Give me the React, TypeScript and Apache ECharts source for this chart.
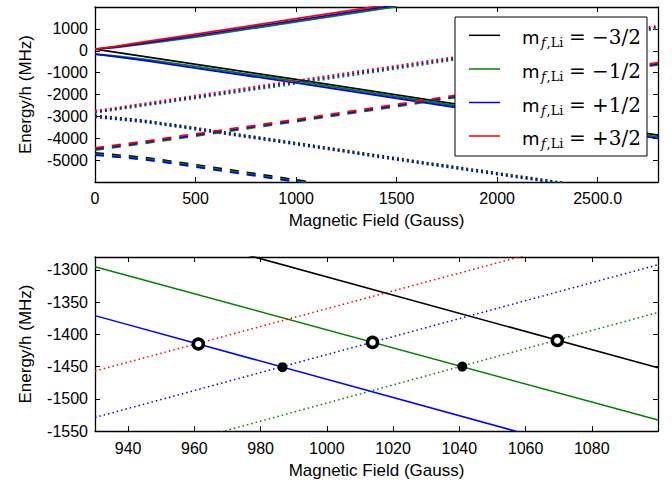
import React, { useEffect, useRef } from "react";
import * as echarts from "echarts";

const BLACK = "#000000";
const GREEN = "#008000";
const BLUE = "#0000ff";
const RED = "#ff0000";

// ---------- Top panel (B in Gauss, Energy/h in MHz) ----------
// solid, rising branch
const solidUpRed = [[0, 76], [100, 200], [250, 420], [500, 765], [1000, 1465], [1500, 2165]];
const solidUpBlue = [[0, 76], [100, 170], [250, 365], [500, 695], [1000, 1390], [1500, 2090]];
const solidUpGreen = [[0, 76], [100, 140], [250, 310], [500, 625], [1000, 1318], [1500, 2018]];
// solid, falling branch
const solidDnBlack = [[0, 76], [1000, -1312], [2800, -3860]];
const solidDnGreen = [[0, -152], [100, -235], [250, -390], [500, -715], [1000, -1393], [2000, -2800], [2800, -3935]];
const solidDnBlue = [[0, -152], [100, -265], [250, -450], [500, -790], [1000, -1470], [2000, -2880], [2800, -4010]];
// dotted, rising branch
const dotUpRed = [[0, -2745], [500, -2055], [1000, -1360], [2000, 0], [2800, 1150]];
const dotUpBlue = [[0, -2790], [500, -2115], [1000, -1432], [2000, -65], [2800, 1080]];
const dotUpGreen = [[0, -2835], [500, -2175], [1000, -1507], [2000, -130], [2800, 1010]];
// dotted, falling branch
const dotDnBlack = [[0, -2960], [250, -3190], [500, -3520], [1000, -4210], [1500, -4910], [2000, -5580], [2500, -6250]];
const dotDnGreen = [[0, -3000], [250, -3230], [500, -3560], [1000, -4250], [1500, -4950], [2000, -5620], [2500, -6290]];
const dotDnBlue = [[0, -3040], [250, -3270], [500, -3600], [1000, -4290], [1500, -4990], [2000, -5660], [2500, -6330]];
// dashed, rising branch
const dashUpRed = [[0, -4440], [250, -4130], [500, -3800], [1000, -3140], [1500, -2450], [2000, -1750], [2800, -540]];
const dashUpBlue = [[0, -4490], [250, -4180], [500, -3850], [1000, -3190], [1500, -2500], [2000, -1800], [2800, -590]];
const dashUpGreen = [[0, -4540], [250, -4230], [500, -3900], [1000, -3240], [1500, -2550], [2000, -1850], [2800, -640]];
// dashed, falling branch
const dashDnBlack = [[0, -4670], [250, -4880], [500, -5210], [1000, -5900], [1500, -6600]];
const dashDnGreen = [[0, -4720], [250, -4930], [500, -5260], [1000, -5950], [1500, -6650]];
const dashDnBlue = [[0, -4770], [250, -4980], [500, -5310], [1000, -6000], [1500, -6700]];

// ---------- Bottom panel (zoom) ----------
const zSolidBlack = [[930, -1212], [1100, -1452]];
const zSolidGreen = [[930, -1295], [1100, -1533]];
const zSolidBlue = [[930, -1371], [1100, -1611]];
const zDotRed = [[930, -1457], [1100, -1222]];
const zDotBlue = [[930, -1529], [1100, -1292]];
const zDotGreen = [[930, -1605], [1100, -1366]];
const openCircles = [[961.2, -1415], [1013.8, -1412.5], [1069.6, -1409.5]];
const filledDots = [[986.6, -1451], [1040.9, -1450]];

const bottomXTicks = [940, 960, 980, 1000, 1020, 1040, 1060, 1080];
const legendValues = ["−3/2", "−1/2", "+1/2", "+3/2"];
const legendColors = [BLACK, GREEN, BLUE, RED];

type Kind = "solid" | "dotted" | "dashed";

function mk(data: number[][], color: string, kind: Kind, top: boolean) {
  let type: any = "solid";
  if (kind === "dotted") type = top ? [2, 3] : [1.5, 3];
  if (kind === "dashed") type = [9, 8];
  return {
    type: "line",
    data,
    xAxisIndex: top ? 0 : 2,
    yAxisIndex: top ? 0 : 2,
    symbol: "none",
    silent: true,
    clip: true,
    z: 2,
    lineStyle: { color, width: top ? 1.8 : 1.5, type, cap: "butt" },
  };
}

const FONT = "Liberation Sans";
const lineAx = { show: true, onZero: false, lineStyle: { color: "#000", width: 1.3 } };
const tickIn = { show: true, inside: true, length: 5, lineStyle: { color: "#000", width: 1 } };
const lbl = { color: "#000", fontSize: 16, fontFamily: FONT };
const nameStyle = { color: "#000", fontSize: 17, fontFamily: FONT };

export default function App() {
  const ref = useRef<HTMLDivElement>(null);
  useEffect(() => {
    if (!ref.current) return;
    const chart = echarts.init(ref.current, undefined, { renderer: "svg" });

    const series: any[] = [
      mk(solidDnBlack, BLACK, "solid", true),
      mk(solidUpGreen, GREEN, "solid", true),
      mk(solidDnGreen, GREEN, "solid", true),
      mk(solidUpBlue, BLUE, "solid", true),
      mk(solidDnBlue, BLUE, "solid", true),
      mk(solidUpRed, RED, "solid", true),
      mk(dotDnBlack, BLACK, "dotted", true),
      mk(dotUpGreen, GREEN, "dotted", true),
      mk(dotDnGreen, GREEN, "dotted", true),
      mk(dotUpBlue, BLUE, "dotted", true),
      mk(dotDnBlue, BLUE, "dotted", true),
      mk(dotUpRed, RED, "dotted", true),
      mk(dashDnBlack, BLACK, "dashed", true),
      mk(dashUpGreen, GREEN, "dashed", true),
      mk(dashDnGreen, GREEN, "dashed", true),
      mk(dashUpBlue, BLUE, "dashed", true),
      mk(dashDnBlue, BLUE, "dashed", true),
      mk(dashUpRed, RED, "dashed", true),
      mk(zSolidBlack, BLACK, "solid", false),
      mk(zSolidGreen, GREEN, "solid", false),
      mk(zSolidBlue, BLUE, "solid", false),
      mk(zDotRed, RED, "dotted", false),
      mk(zDotBlue, BLUE, "dotted", false),
      mk(zDotGreen, GREEN, "dotted", false),
      {
        type: "scatter",
        data: openCircles,
        xAxisIndex: 2,
        yAxisIndex: 2,
        symbol: "circle",
        symbolSize: 10,
        silent: true,
        z: 5,
        itemStyle: { color: "#ffffff", borderColor: "#000000", borderWidth: 3.5, opacity: 1 },
      },
      {
        type: "scatter",
        data: filledDots,
        xAxisIndex: 2,
        yAxisIndex: 2,
        symbol: "circle",
        symbolSize: 10,
        silent: true,
        z: 5,
        itemStyle: { color: "#000000", opacity: 1 },
      },
    ];

    const rowBase = [43.3, 77, 110.5, 144];
    const legendEls: any[] = [
      {
        type: "rect",
        shape: { x: 455, y: 17, width: 192, height: 139 },
        style: { fill: "#ffffff", stroke: "#000000", lineWidth: 1 },
        z: 100,
      },
    ];
    rowBase.forEach((b, i) => {
      legendEls.push({
        type: "line",
        shape: { x1: 469, y1: b - 8, x2: 500, y2: b - 8 },
        style: { stroke: legendColors[i], lineWidth: 1.5 },
        z: 101,
      });
      legendEls.push({
        type: "text",
        x: 522,
        y: b - 5.5,
        style: { text: "m", fontSize: 18, fontFamily: "DejaVu Sans", fill: "#000", verticalAlign: "middle", align: "left" },
        z: 101,
      });
      legendEls.push({
        type: "text",
        x: 541,
        y: b - 0.5,
        style: { text: "f", fontSize: 13, fontStyle: "italic", fontFamily: "DejaVu Serif", fill: "#000", verticalAlign: "middle", align: "left" },
        z: 101,
      });
      legendEls.push({
        type: "text",
        x: 546.5,
        y: b - 0.5,
        style: { text: ",Li", fontSize: 13, fontFamily: "DejaVu Serif", fill: "#000", verticalAlign: "middle", align: "left" },
        z: 101,
      });
      legendEls.push({
        type: "text",
        x: 569,
        y: b - 6,
        style: { text: "= " + legendValues[i], fontSize: 20, fontFamily: "DejaVu Serif", fill: "#000", verticalAlign: "middle", align: "left" },
        z: 101,
      });
    });

    chart.setOption({
      animation: false,
      backgroundColor: "#ffffff",
      grid: [
        { left: 95, top: 7, width: 563, height: 175 },
        { left: 95, top: 257, width: 563, height: 174 },
      ],
      xAxis: [
        {
          gridIndex: 0, type: "value", min: 0, max: 2800, interval: 500, position: "bottom",
          axisLine: lineAx, axisTick: tickIn, splitLine: { show: false },
          axisLabel: { ...lbl, margin: 8, formatter: (v: number) => (v === 2800 ? "" : v === 2500 ? "2500.0" : String(v)) },
          name: "Magnetic Field (Gauss)", nameLocation: "middle", nameGap: 30, nameTextStyle: nameStyle,
        },
        {
          gridIndex: 0, type: "value", min: 0, max: 2800, interval: 500, position: "top",
          axisLine: lineAx, axisTick: tickIn, splitLine: { show: false }, axisLabel: { show: false },
        },
        {
          gridIndex: 1, type: "value", min: 930, max: 1100, position: "bottom",
          axisLine: lineAx, axisTick: { ...tickIn, customValues: bottomXTicks }, splitLine: { show: false },
          axisLabel: { ...lbl, margin: 9, customValues: bottomXTicks, formatter: (v: number) => String(v) },
          name: "Magnetic Field (Gauss)", nameLocation: "middle", nameGap: 31, nameTextStyle: nameStyle,
        },
        {
          gridIndex: 1, type: "value", min: 930, max: 1100, position: "top",
          axisLine: lineAx, axisTick: { ...tickIn, customValues: bottomXTicks }, splitLine: { show: false },
          axisLabel: { show: false, customValues: bottomXTicks },
        },
      ],
      yAxis: [
        {
          gridIndex: 0, type: "value", min: -6000, max: 2000, interval: 1000, position: "left",
          axisLine: lineAx, axisTick: tickIn, splitLine: { show: false },
          axisLabel: { ...lbl, margin: 7, formatter: (v: number) => (v === -6000 || v === 2000 ? "" : String(v)) },
          name: "Energy/h (MHz)", nameLocation: "middle", nameGap: 61, nameRotate: 90, nameTextStyle: nameStyle,
        },
        {
          gridIndex: 0, type: "value", min: -6000, max: 2000, interval: 1000, position: "right",
          axisLine: lineAx, axisTick: tickIn, splitLine: { show: false }, axisLabel: { show: false },
        },
        {
          gridIndex: 1, type: "value", min: -1550, max: -1280, interval: 50, position: "left",
          axisLine: lineAx, axisTick: tickIn, splitLine: { show: false },
          axisLabel: { ...lbl, margin: 7, formatter: (v: number) => (v === -1280 ? "" : String(v)) },
          name: "Energy/h (MHz)", nameLocation: "middle", nameGap: 61, nameRotate: 90, nameTextStyle: nameStyle,
        },
        {
          gridIndex: 1, type: "value", min: -1550, max: -1280, interval: 50, position: "right",
          axisLine: lineAx, axisTick: tickIn, splitLine: { show: false }, axisLabel: { show: false },
        },
      ],
      series,
      graphic: legendEls,
    });

    return () => chart.dispose();
  }, []);

  return (
    <div
      ref={ref}
      style={{ position: "absolute", left: 0, top: 0, width: 672, height: 487, background: "#fff" }}
    />
  );
}
